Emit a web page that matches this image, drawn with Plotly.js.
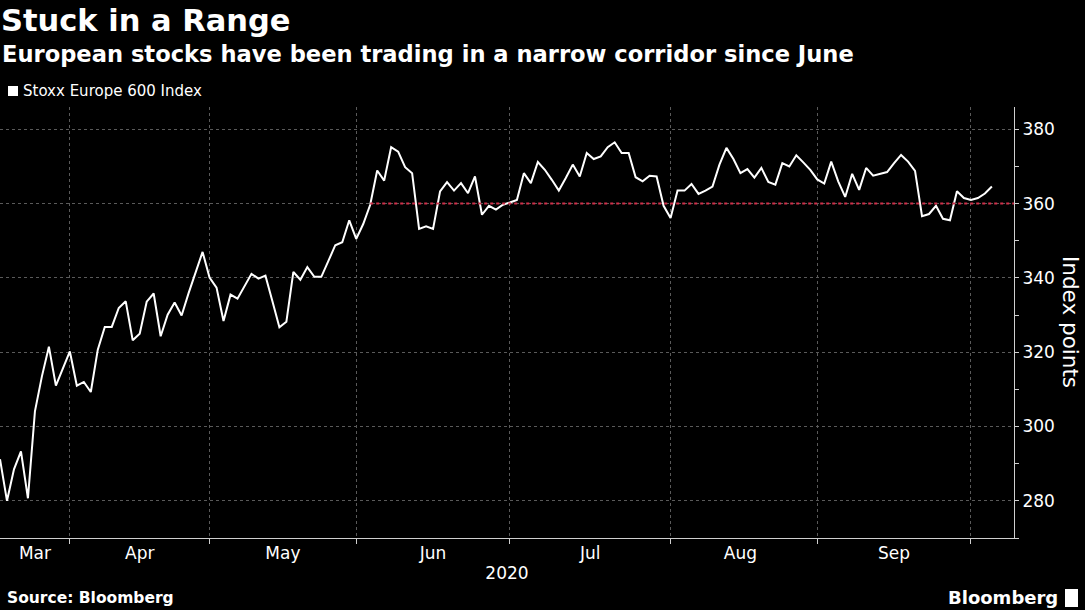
<!DOCTYPE html>
<html>
<head>
<meta charset="utf-8">
<script src="https://cdn.plot.ly/plotly-3.0.1.min.js"></script>
<style>
  html, body { margin: 0; padding: 0; background: #000; }
  #chart { width: 1085px; height: 610px; }
</style>
</head>
<body>
<div id="chart"></div>
<script>
// ---------------- DATA ----------------
const titleText = "Stuck in a Range";
const subtitleText = "European stocks have been trading in a narrow corridor since June";
const seriesName = "Stoxx Europe 600 Index";
const yAxisTitle = "Index points";
const xAxisTitle = "2020";
const sourceText = "Source: Bloomberg";
const brandText = "Bloomberg";

const dates = [
  "2020-03-17","2020-03-18","2020-03-19","2020-03-20","2020-03-23","2020-03-24","2020-03-25","2020-03-26","2020-03-27","2020-03-30","2020-03-31",
  "2020-04-01","2020-04-02","2020-04-03","2020-04-06","2020-04-07","2020-04-08","2020-04-09","2020-04-14","2020-04-15","2020-04-16","2020-04-17",
  "2020-04-20","2020-04-21","2020-04-22","2020-04-23","2020-04-24","2020-04-27","2020-04-28","2020-04-29","2020-04-30",
  "2020-05-01","2020-05-04","2020-05-05","2020-05-06","2020-05-07","2020-05-08","2020-05-11","2020-05-12","2020-05-13","2020-05-14","2020-05-15",
  "2020-05-18","2020-05-19","2020-05-20","2020-05-21","2020-05-22","2020-05-25","2020-05-26","2020-05-27","2020-05-28","2020-05-29",
  "2020-06-01","2020-06-02","2020-06-03","2020-06-04","2020-06-05","2020-06-08","2020-06-09","2020-06-10","2020-06-11","2020-06-12",
  "2020-06-15","2020-06-16","2020-06-17","2020-06-18","2020-06-19","2020-06-22","2020-06-23","2020-06-24","2020-06-25","2020-06-26","2020-06-29","2020-06-30",
  "2020-07-01","2020-07-02","2020-07-03","2020-07-06","2020-07-07","2020-07-08","2020-07-09","2020-07-10","2020-07-13","2020-07-14","2020-07-15",
  "2020-07-16","2020-07-17","2020-07-20","2020-07-21","2020-07-22","2020-07-23","2020-07-24","2020-07-27","2020-07-28","2020-07-29","2020-07-30","2020-07-31",
  "2020-08-03","2020-08-04","2020-08-05","2020-08-06","2020-08-07","2020-08-10","2020-08-11","2020-08-12","2020-08-13","2020-08-14",
  "2020-08-17","2020-08-18","2020-08-19","2020-08-20","2020-08-21","2020-08-24","2020-08-25","2020-08-26","2020-08-27","2020-08-28","2020-08-31",
  "2020-09-01","2020-09-02","2020-09-03","2020-09-04","2020-09-07","2020-09-08","2020-09-09","2020-09-10","2020-09-11",
  "2020-09-14","2020-09-15","2020-09-16","2020-09-17","2020-09-18","2020-09-21","2020-09-22","2020-09-23","2020-09-24","2020-09-25",
  "2020-09-28","2020-09-29","2020-09-30","2020-10-01","2020-10-02","2020-10-05"
];

const values = [
  291.2,280.0,288.5,293.3,280.7,304.1,313.5,321.5,311.0,315.4,320.2,
  311.0,312.0,309.3,320.7,326.8,326.8,331.9,333.7,323.2,325.0,333.6,
  335.8,324.3,330.1,333.4,329.9,335.9,341.4,347.0,340.1,
  337.4,328.4,335.5,334.4,337.7,341.1,339.8,340.6,333.7,326.7,328.2,
  341.6,339.5,342.9,340.3,340.3,344.5,348.8,349.6,355.5,350.5,
  354.5,359.7,368.9,366.2,375.2,374.0,369.8,368.2,353.2,353.9,
  353.2,363.3,365.8,363.5,365.5,362.8,367.3,357.0,359.4,358.4,359.7,360.3,
  361.0,368.2,365.5,371.2,369.1,366.4,363.5,366.9,370.5,367.3,373.6,
  372.0,372.7,375.2,376.5,373.6,373.6,367.1,366.0,367.5,367.3,359.4,356.1,
  363.5,363.5,365.3,362.6,363.5,364.6,370.5,375.0,372.0,368.2,
  369.3,367.0,369.6,365.8,365.1,370.9,370.0,373.0,371.1,369.1,366.5,
  365.4,371.3,366.0,361.8,368.0,363.7,369.6,367.5,368.0,
  368.5,370.9,373.1,371.3,368.8,356.6,357.2,359.4,355.9,355.5,
  363.3,361.5,361.0,361.5,362.7,364.6
];

// Market holidays (no trading) removed from the axis
const holidays = ["2020-04-10","2020-04-13"];

// Month tick labels and the month-end trading days that separate them
const monthLabels = ["Mar","Apr","May","Jun","Jul","Aug","Sep"];
const monthLabelDates = ["2020-03-24","2020-04-16","2020-05-14 12:00","2020-06-15","2020-07-15 12:00","2020-08-14","2020-09-15"];
const monthEndDates = ["2020-03-31","2020-04-30","2020-05-29","2020-06-30","2020-07-31","2020-08-31","2020-09-30"];

const yTickValues = [280, 300, 320, 340, 360, 380];
const rangeLevel = 360;
const rangeStartDate = "2020-06-02";

// ---------------- LAYOUT ----------------
const W = 1085, H = 610;
const M = {l: 0, r: 71, t: 107, b: 72};
const plotW = W - M.l - M.r, plotH = H - M.t - M.b;
const px = x => (x - M.l) / plotW;
const py = y => (H - M.b - y) / plotH;

const xRange = ["2020-03-17", "2020-10-08 04:00"];
const FONT = "DejaVu Sans";
const gridColor = "#5a5a5a";
const axisColor = "#cfcfcf";

const trace = {
  x: dates,
  y: values,
  type: "scatter",
  mode: "lines",
  name: seriesName,
  line: {color: "#ffffff", width: 2},
  showlegend: false,
  hoverinfo: "x+y"
};

const layout = {
  width: W, height: H,
  paper_bgcolor: "#000", plot_bgcolor: "#000",
  margin: M,
  font: {family: FONT, color: "#ffffff", size: 17},
  showlegend: false,
  title: {
    text: titleText,
    font: {family: FONT, size: 30.5, color: "#ffffff", weight: "bold"},
    x: 0, xref: "container", xanchor: "left",
    y: 1, yref: "container", yanchor: "top",
    pad: {l: 1, t: 10}
  },
  xaxis: {
    type: "date",
    range: xRange,
    rangebreaks: [{bounds: ["sat", "mon"]}, {values: holidays}],
    tickmode: "array",
    tickvals: monthLabelDates,
    ticktext: monthLabels,
    ticks: "",
    showgrid: false,
    showline: true, linecolor: axisColor, linewidth: 1,
    zeroline: false,
    tickfont: {family: FONT, size: 17, color: "#ffffff"},
    minor: {
      tickmode: "array",
      tickvals: monthEndDates,
      ticks: "outside", ticklen: 5, tickcolor: axisColor, tickwidth: 1,
      showgrid: true, gridcolor: gridColor, gridwidth: 1, griddash: "dot"
    },
    title: {text: xAxisTitle, font: {family: FONT, size: 17, color: "#ffffff"}, standoff: 4},
    fixedrange: true
  },
  yaxis: {
    side: "right",
    range: [270, 386],
    tickmode: "array",
    tickvals: yTickValues,
    ticks: "outside", ticklen: 4, tickcolor: axisColor, tickwidth: 1,
    showline: true, linecolor: axisColor, linewidth: 1,
    showgrid: true, gridcolor: gridColor, gridwidth: 1, griddash: "dot",
    zeroline: false,
    tickfont: {family: FONT, size: 17, color: "#ffffff"},
    minor: {tickmode: "linear", tick0: 270, dtick: 10, ticks: "outside", ticklen: 4, tickcolor: axisColor, showgrid: false},
    fixedrange: true
  },
  shapes: [
    {type: "line", xref: "x", yref: "y", x0: rangeStartDate, x1: xRange[1], y0: rangeLevel, y1: rangeLevel,
     line: {color: "#d0304a", width: 2, dash: "dot"}},
    // legend swatch
    {type: "rect", xref: "paper", yref: "paper", x0: px(8), x1: px(18), y0: py(96), y1: py(86),
     fillcolor: "#ffffff", line: {width: 0}},
    // brand icon
    {type: "rect", xref: "paper", yref: "paper", x0: px(1065), x1: px(1078), y0: py(607), y1: py(589),
     fillcolor: "#ffffff", line: {width: 0}}
  ],
  annotations: [
    {text: subtitleText, xref: "paper", yref: "paper", x: px(0), y: py(54), xanchor: "left", yanchor: "middle",
     showarrow: false, font: {family: FONT, size: 22.6, color: "#ffffff", weight: "bold"}},
    {text: seriesName, xref: "paper", yref: "paper", x: px(21), y: py(91), xanchor: "left", yanchor: "middle",
     showarrow: false, font: {family: FONT, size: 15, color: "#ffffff"}},
    {text: yAxisTitle, xref: "paper", yref: "paper", x: px(1071), y: py(322), xanchor: "center", yanchor: "middle",
     textangle: 90, showarrow: false, font: {family: FONT, size: 21.5, color: "#ffffff"}},
    {text: sourceText, xref: "paper", yref: "paper", x: px(5), y: py(598), xanchor: "left", yanchor: "middle",
     showarrow: false, font: {family: FONT, size: 15.5, color: "#ffffff", weight: "bold"}},
    {text: brandText, xref: "paper", yref: "paper", x: px(1060), y: py(597), xanchor: "right", yanchor: "middle",
     showarrow: false, font: {family: FONT, size: 18, color: "#ffffff", weight: "bold"}}
  ]
};

Plotly.newPlot("chart", [trace], layout, {displayModeBar: false, staticPlot: false, responsive: false});
</script>
</body>
</html>
